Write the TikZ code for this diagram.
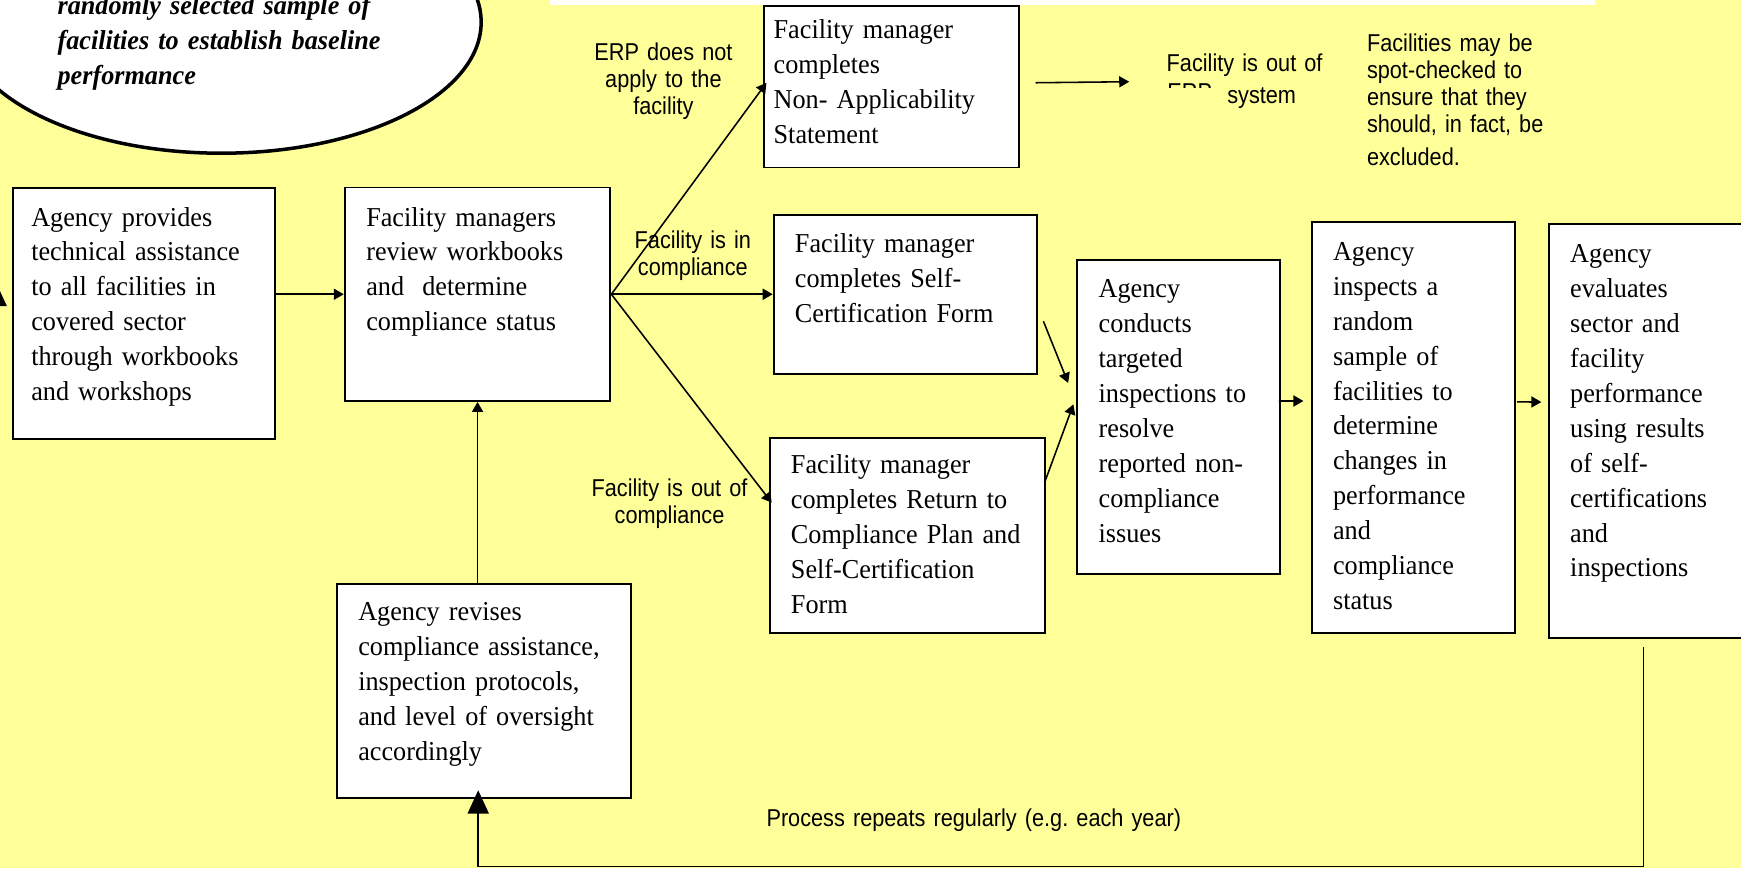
\documentclass[tikz,border=0pt]{standalone}
\usepackage{fontspec}
\setmainfont{Liberation Serif}[FakeStretch=0.96, WordSpace=0.8]
\newfontfamily\notesans{Liberation Sans}[FakeStretch=0.89, WordSpace=0.8]
\usetikzlibrary{arrows.meta,shapes.geometric}
\definecolor{notepad}{RGB}{255,255,153}
\newcommand{\flowfont}{\fontsize{14pt}{17.9pt}\selectfont}
\newcommand{\remarkfont}{\notesans\fontsize{12.5pt}{13.9pt}\selectfont}
\frenchspacing

\begin{document}
\begin{tikzpicture}[x=0.02cm, y=-0.02cm,
		proc/.style={draw, line width=1pt, fill=white, anchor=north west, align=left, inner ysep=0pt, font=\flowfont},
		remark/.style={inner sep=0pt, text width=4cm, font=\remarkfont},
		conn/.style={line width=0.8pt, -{Triangle[length=0.18cm,width=0.2cm]}},
		bigconn/.style={line width=0.8pt, -{Triangle[length=0.42cm,width=0.38cm]}}]
		\useasboundingbox (0,0) rectangle (1568,782);
		\fill[notepad] (0,0) rectangle (1568,782);
		\fill[white] (495,0) rectangle (1436.5,4.5);

		% Define nodes
		\node[draw, ellipse, line width=1.8pt, fill=white, minimum width=9.36cm, minimum height=4.72cm, inner sep=0pt] (baseline) at (199.4,20) {};
		\node[inner sep=0pt, text width=7cm, align=left, anchor=base west, font=\flowfont\bfseries\itshape] (baselinetext) at (51.5,13.5) {randomly selected sample of\\facilities to establish baseline\\performance};

		\node[proc, text height=0.692cm, text depth=3.842cm, inner xsep=0.328cm, text width=4.066cm] (provide) at (10.9,168.1) {Agency provides\\technical assistance\\to all facilities in\\covered sector\\through workbooks\\and workshops};
		\node[proc, text height=0.694cm, text depth=3.152cm, inner xsep=0.388cm, text width=4.01cm] (review) at (309.6,168) {Facility managers\\review workbooks\\and~ determine\\compliance status};
		\node[proc, text height=0.582cm, text depth=2.328cm, inner xsep=0.172cm, text width=4.24cm] (nonapp) at (687.3,4.5) {Facility manager\\completes\\Non- Applicability\\Statement};
		\node[proc, text height=0.68cm, text depth=2.19cm, inner xsep=0.384cm, text width=3.974cm] (selfcert) at (695.9,192.7) {Facility manager\\completes Self-\\Certification Form};
		\node[proc, text height=0.636cm, text depth=2.876cm, inner xsep=0.378cm, text width=4.204cm] (rtc) at (692.6,393.9) {Facility manager\\completes Return to\\Compliance Plan and\\Self-Certification\\Form};
		\node[proc, text height=0.672cm, text depth=4.984cm, inner xsep=0.382cm, text width=2.888cm] (target) at (969.5,233.6) {Agency\\conducts\\targeted\\inspections to\\resolve\\reported non-\\compliance\\issues};
		\node[proc, text height=0.698cm, text depth=6.718cm, inner xsep=0.372cm, text width=2.906cm] (inspect) at (1181.1,198.7) {Agency\\inspects a\\random\\sample of\\facilities to\\determine\\changes in\\performance\\and\\compliance\\status};
		\node[proc, text height=0.692cm, text depth=6.754cm, inner xsep=0.382cm, text width=3.352cm] (evaluate) at (1394.2,201.1) {Agency\\evaluates\\sector and\\facility\\performance\\using results\\of self-\\certifications\\and\\inspections};
		\node[proc, text height=0.66cm, text depth=3.182cm, inner xsep=0.39cm, text width=4.522cm] (revise) at (302.3,525.4) {Agency revises\\compliance assistance,\\inspection protocols,\\and level of oversight\\accordingly};

		\node[remark, align=center, anchor=base] (erpna) at (597.5,54.6) {ERP does not\\apply to the\\facility};
		\node[remark, align=center, anchor=base] (incomp) at (624,223.7) {Facility is in\\compliance};
		\node[remark, align=center, anchor=base] (outcomp) at (603,447.3) {Facility is out of\\compliance};
		\node[remark, align=left, anchor=base west] (outerp) at (1050.4,64.5) {Facility is out of};
		\begin{scope}
			\clip (1040,60) rectangle (1100,78.6);
			\node[remark, align=left, anchor=base west] (erpcut) at (1051,90.5) {ERP};
		\end{scope}
		\node[remark, align=left, anchor=base west] (outsys) at (1105,93) {system};
		\node[remark, align=left, anchor=base west] (spot) at (1230.8,46.5) {Facilities may be\\spot-checked to\\ensure that they\\should, in fact, be\\[3pt]excluded.};
		\node[remark, text width=9cm, align=left, anchor=base west] (repeat) at (690,744.5) {Process repeats regularly (e.g. each year)};

		\coordinate (outpoint) at (1017,73.6);
		\coordinate (loopstart) at (1480,583);
		\coordinate (loopcorner) at (1480,780.5);
		\coordinate (edgetip) at (-3.5,254.6);
		\coordinate (edgefoot) at (-3.5,330);

		% Connect the nodes
		\draw[conn] (provide.east |- review.west) -- (review.west);
		\draw[conn] (review.east) -- ([shift={(3,-3.6)}]nonapp.west);
		\draw[conn] (review.east) -- (review.east -| selfcert.west);
		\draw[conn] (review.east) -- ([shift={(2.4,-29.9)}]rtc.west);
		\draw[conn] ([shift={(14.5,-3.6)}]nonapp.east) -- (outpoint);
		\draw[conn] ([shift={(5,24)}]selfcert.east) -- ([shift={(-7.5,-31)}]target.west);
		\draw[conn] ([shift={(-1.5,-48)}]rtc.east) -- ([shift={(-2.8,-11.7)}]target.west);
		\draw[conn] ([shift={(-2,-14.7)}]target.east) -- ([shift={(-7.2,-23.8)}]inspect.west);
		\draw[conn] ([shift={(1,-23)}]inspect.east) -- ([shift={(-6,-26)}]evaluate.west);
		\draw[conn] (revise.north -| review.south) -- (review.south);
		\draw[bigconn] (loopstart) -- (loopcorner) -| ([shift={(-5,-7.5)}]revise.south);
		\draw[bigconn] (edgefoot) -- (edgetip);
	\end{tikzpicture}
\end{document}
